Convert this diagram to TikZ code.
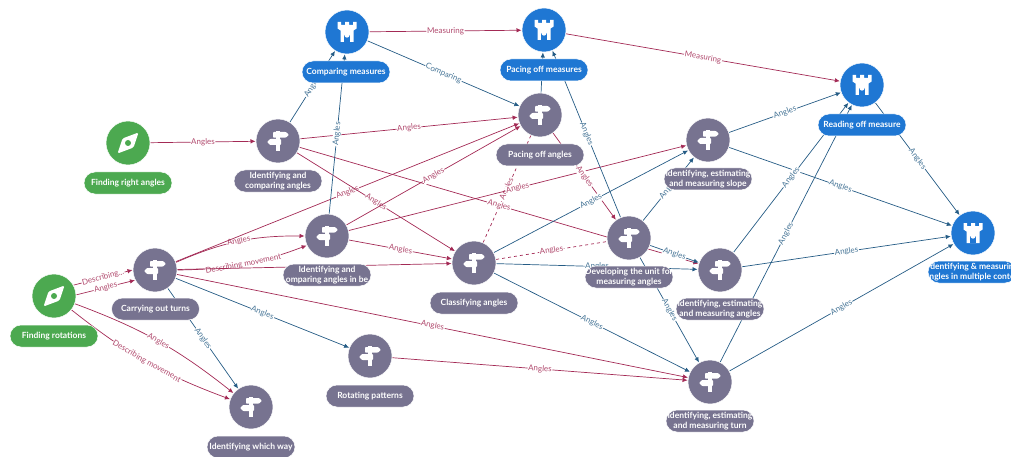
\documentclass[tikz,border=0pt]{standalone}
\usepackage{fontspec}
\setmainfont{Lato}
\usetikzlibrary{arrows.meta,backgrounds}
\definecolor{greennode}{HTML}{4CA950}
\definecolor{bluenode}{HTML}{1F77D3}
\definecolor{greynode}{HTML}{777390}
\definecolor{redline}{HTML}{A32A55}
\definecolor{blueline}{HTML}{255C85}
\tikzset{
    roundnode/.style={circle, draw=white, line width=.5pt, minimum size=44pt, inner sep=0pt, outer sep=.5pt},
    pilllabel/.style={draw=white, line width=.5pt, rounded corners=11pt, minimum width=88pt, minimum height=22pt, inner sep=0pt, text=white, align=center, font=\fontsize{8.5}{9.6}\selectfont\bfseries},
    compassnode/.style={roundnode, fill=greennode},
    compasslabel/.style={pilllabel, fill=greennode},
    signnode/.style={roundnode, fill=greynode},
    signlabel/.style={pilllabel, fill=greynode},
    towernode/.style={roundnode, fill=bluenode},
    towerlabel/.style={pilllabel, fill=bluenode},
    rededge/.style={draw=redline, line width=.7pt, -{Latex[length=5pt,width=4.5pt]}},
    blueedge/.style={draw=blueline, line width=.7pt, -{Latex[length=5pt,width=4.5pt]}},
    dashedge/.style={draw=redline, line width=.7pt, dashed},
    redtext/.style={midway, sloped, fill=white, inner sep=.6pt, text=redline!85!white, font=\fontsize{8}{8}\selectfont},
    bluetext/.style={midway, sloped, fill=white, inner sep=.6pt, text=blueline!85!white, font=\fontsize{8}{8}\selectfont},
    signpost/.pic={
        \fill[white] (-1.6, -10) rectangle (1.6, 10);
        \fill[white, rounded corners=.8pt] (-5, -9) -- (8, -9) -- (11, -6.2) -- (8, -3.4) -- (-5, -3.4) -- cycle;
        \fill[white, rounded corners=.8pt] (3, -2) -- (-8, -2) -- (-11, 1) -- (-8, 4) -- (3, 4) -- cycle;
    },
    compass/.pic={
        \fill[white, rounded corners=1.5pt] (10.5, -10.5) -- (5.5, 4.5) -- (-10.5, 10.5) -- (-5.5, -4.5) -- cycle;
        \fill[greennode] (0, 0) circle (3);
    },
    tower/.pic={
        \fill[white] (-9.5, -10) -- (-6, -10) -- (-6, -7) -- (-2, -7) -- (-2, -10) -- (2, -10) -- (2, -7) -- (6, -7) -- (6, -10) -- (9.5, -10) -- (9.5, -3.5) -- (6.5, -1.5) -- (6.5, 10) -- (-6.5, 10) -- (-6.5, -1.5) -- (-9.5, -3.5) -- cycle;
        \fill[bluenode] (-2.8, 10) -- (-2.8, 3) arc[start angle=180, end angle=0, radius=2.8] -- (2.8, 10) -- cycle;
    },
}
\begin{document}
\begin{tikzpicture}[x=1pt, y=-1pt]
        \useasboundingbox (0, 0) rectangle (1011, 457);
        %draw compass nodes
        \node[compassnode] (rotations) at (54, 296) {};
        \node[compassnode] (rightangles) at (128, 143) {};
        \pic at (rotations) {compass};
        \pic at (rightangles) {compass};
        \node[compasslabel] (rotationslabel) at (54, 336) {Finding rotations};
        \node[compasslabel] (rightangleslabel) at (128, 183) {Finding right angles};
        %draw signpost nodes
        \node[signnode] (turns) at (155, 270) {};
        \node[signnode] (whichway) at (251, 407) {};
        \node[signnode] (comparing) at (278, 141) {};
        \node[signnode] (bearings) at (327, 236) {};
        \node[signnode] (patterns) at (370, 356) {};
        \node[signnode] (classifying) at (474, 263) {};
        \node[signnode] (pacing) at (540, 115) {};
        \node[signnode] (unit) at (629, 238) {};
        \node[signnode] (slope) at (708, 140) {};
        \node[signnode] (estimating) at (720, 270) {};
        \node[signnode] (turn) at (710, 382) {};
        \pic at (turns) {signpost};
        \pic at (whichway) {signpost};
        \pic at (comparing) {signpost};
        \pic at (bearings) {signpost};
        \pic at (patterns) {signpost};
        \pic at (classifying) {signpost};
        \pic at (pacing) {signpost};
        \pic at (unit) {signpost};
        \pic at (slope) {signpost};
        \pic at (estimating) {signpost};
        \pic at (turn) {signpost};
        %label signpost nodes
        \node[signlabel] (turnslabel) at (155.5, 309) {Carrying out turns};
        \node[signlabel] (whichwaylabel) at (251, 447) {Identifying which way};
        \node[signlabel] (comparinglabel) at (278, 181) {Identifying and\\comparing angles};
        \node[signlabel] (bearingslabel) at (327, 275) {Identifying and\\omparing angles in be};
        \node[signlabel] (patternslabel) at (370, 396) {Rotating patterns};
        \node[signlabel] (classifyinglabel) at (474, 303) {Classifying angles};
        \node[signlabel] (pacinglabel) at (540, 155) {Pacing off angles};
        \node[signlabel] (unitlabel) at (629, 277) {Developing the unit for\\measuring angles};
        \node[signlabel] (slopelabel) at (708, 179) {Identifying, estimating\\and measuring slope};
        \node[signlabel] (estimatinglabel) at (720, 309) {Identifying, estimating\\and measuring angles};
        \node[signlabel] (turnlabel) at (710, 421) {Identifying, estimating\\and measuring turn};
        %draw tower nodes
        \node[towernode] (measures) at (347, 32) {};
        \node[towernode] (pacemeasures) at (544, 30) {};
        \node[towernode] (readingoff) at (862, 85) {};
        \node[towernode] (contexts) at (973, 233) {};
        \pic at (measures) {tower};
        \pic at (pacemeasures) {tower};
        \pic at (readingoff) {tower};
        \pic at (contexts) {tower};
        %label tower nodes
        \node[towerlabel] (measureslabel) at (346, 72) {Comparing measures};
        \node[towerlabel] (pacemeasureslabel) at (544, 70) {Pacing off measures};
        \node[towerlabel] (readingofflabel) at (862, 125) {Reading off measure};
        \node[towerlabel] (contextslabel) at (972, 272) {dentifying \& measurin\\ngles in multiple conte};
        \begin{scope}[on background layer]
        %draw dashed edges
        \draw[dashedge] (classifying) -- node[redtext] {Angles} (pacing);
        \draw[dashedge] (classifying) -- node[redtext] {Angles} (unit);
        %draw red edges
        \draw[rededge] (rotations.29) -- node[redtext] {Describing...} (turns.180);
        \draw[rededge] (rotations.3) -- node[redtext] {Angles} (turns.207);
        \draw[rededge] (rotations) to[bend left=9] node[redtext] {Angles} (whichway);
        \draw[rededge] (rotations) to[bend right=9] node[redtext] {Describing movement} (whichway);
        \draw[rededge] (rightangles) -- node[redtext] {Angles} (comparing);
        \draw[rededge] (turns.20) to[bend left=12] node[redtext] {Angles} (bearings.180);
        \draw[rededge] (turns.0) to[bend right=10] node[redtext] {Describing movement} (bearings.205);
        \draw[rededge] (turns) -- (classifying);
        \draw[rededge] (turns) -- node[redtext] {Angles} (pacing);
        \draw[rededge] (turns) -- node[redtext] {Angles} (turn);
        \draw[rededge] (patterns) -- node[redtext] {Angles} (turn);
        \draw[rededge] (comparing) -- node[redtext] {Angles} (pacing);
        \draw[rededge] (comparing) -- node[redtext] {Angles} (classifying);
        \draw[rededge] (comparing) -- node[redtext] {Angles} (estimating);
        \draw[rededge] (bearings) -- node[redtext] {Angles} (pacing);
        \draw[rededge] (bearings) -- node[redtext] {Angles} (classifying);
        \draw[rededge] (bearings) -- node[redtext] {Angles} (slope);
        \draw[rededge] (pacing) -- node[redtext] {Angles} (unit);
        \draw[rededge] (measures) -- node[redtext] {Measuring} (pacemeasures);
        \draw[rededge] (pacemeasures) -- node[redtext] {Measuring} (readingoff);
        %draw blue edges
        \draw[blueedge] (turns) -- node[bluetext] {Angles} (whichway);
        \draw[blueedge] (turns) -- node[bluetext] {Angles} (patterns);
        \draw[blueedge] (comparing) -- node[bluetext] {Angles} (measures);
        \draw[blueedge] (bearings) -- node[bluetext] {Angles} (measures);
        \draw[blueedge] (measures) -- node[bluetext] {Comparing} (pacing);
        \draw[blueedge] (pacing) -- (pacemeasures);
        \draw[blueedge] (unit) -- node[bluetext] {Angles} (pacemeasures);
        \draw[blueedge] (classifying) -- node[bluetext] {Angles} (slope);
        \draw[blueedge] (classifying) -- node[bluetext] {Angles} (estimating);
        \draw[blueedge] (classifying) -- node[bluetext] {Angles} (turn);
        \draw[blueedge] (unit) -- node[bluetext] {Angles} (slope);
        \draw[blueedge] (unit) -- node[bluetext] {Angles} (estimating);
        \draw[blueedge] (unit) -- node[bluetext] {Angles} (turn);
        \draw[blueedge] (slope) -- node[bluetext] {Angles} (readingoff);
        \draw[blueedge] (slope) -- node[bluetext] {Angles} (contexts);
        \draw[blueedge] (estimating) -- node[bluetext] {Angles} (readingoff);
        \draw[blueedge] (estimating) -- node[bluetext] {Angles} (contexts);
        \draw[blueedge] (turn) -- node[bluetext] {Angles} (readingoff);
        \draw[blueedge] (turn) -- node[bluetext] {Angles} (contexts);
        \draw[blueedge] (readingoff) -- node[bluetext] {Angles} (contexts);
        \end{scope}
    \end{tikzpicture}
\end{document}
